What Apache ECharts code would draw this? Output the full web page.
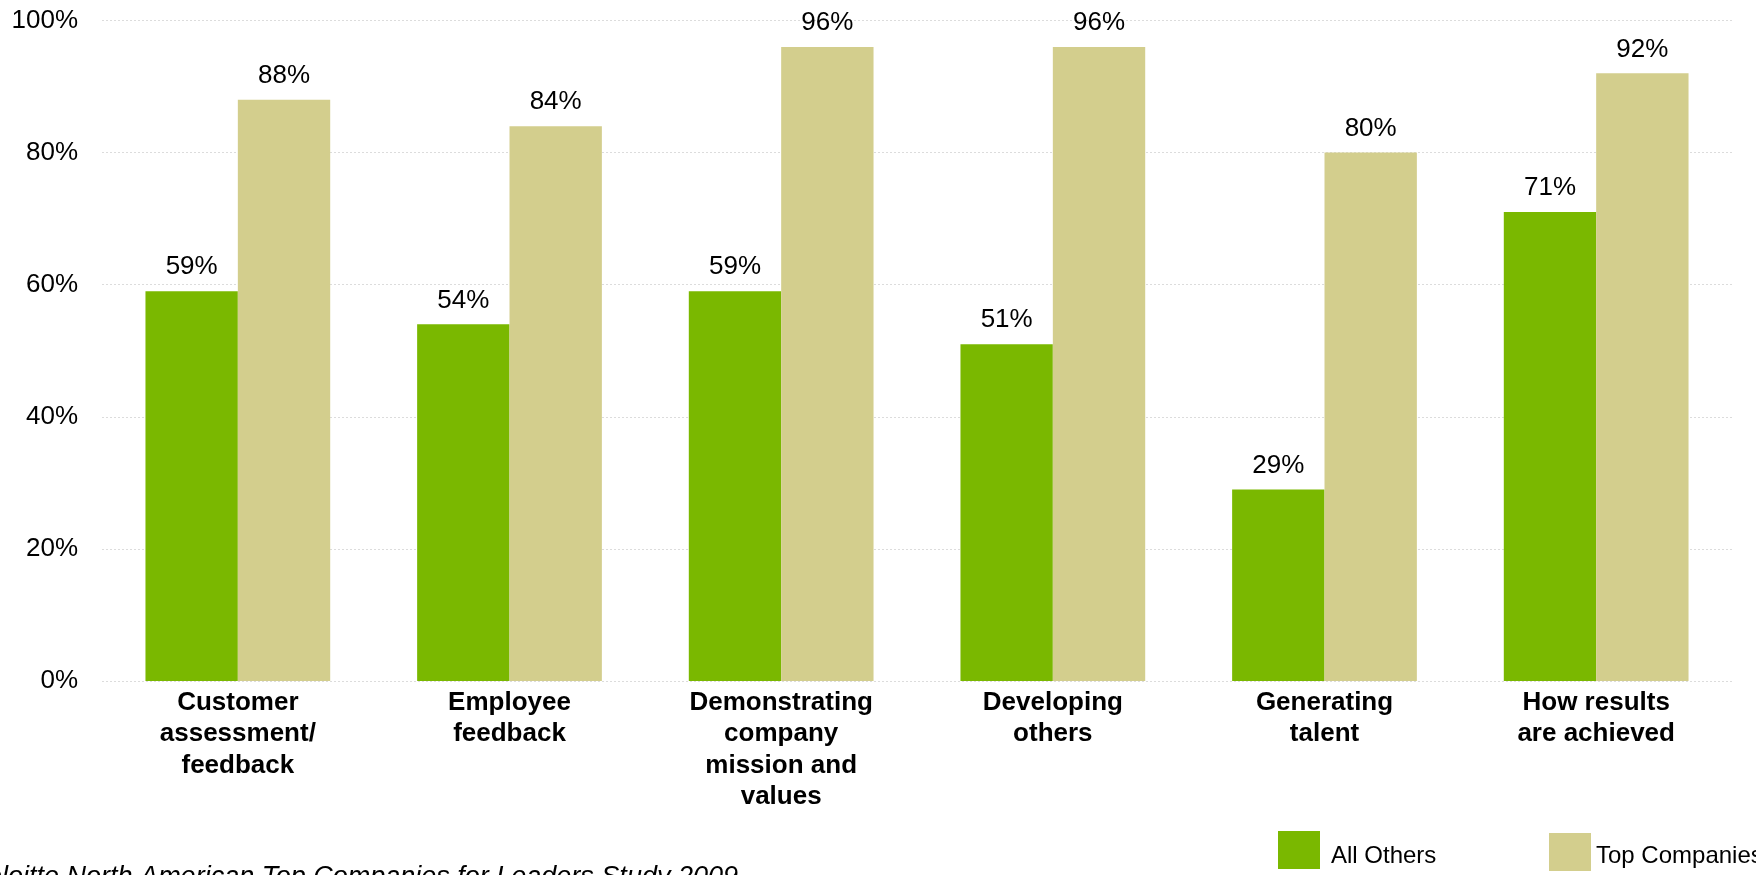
<!DOCTYPE html>
<html>
<head>
<meta charset="utf-8">
<script src="https://cdn.jsdelivr.net/npm/echarts@6/dist/echarts.min.js"></script>
<style>
  html, body { margin: 0; padding: 0; background: #fff; }
  #chart { width: 1756px; height: 875px; }
</style>
</head>
<body>
<div id="chart"></div>
<script>
// Practices used to evaluate leaders: share of companies (%)
const categories = [
  'Customer\nassessment/\nfeedback',
  'Employee\nfeedback',
  'Demonstrating\ncompany\nmission and\nvalues',
  'Developing\nothers',
  'Generating\ntalent',
  'How results\nare achieved'
];
const allOthers = [59, 54, 59, 51, 29, 71];
const topCompanies = [88, 84, 96, 96, 80, 92];
const yTicks = { min: 0, max: 100, interval: 20 };
const sourceNote = 'Source: Deloitte North American Top Companies for Leaders Study 2009';

const FONT = 'Arial, "Liberation Sans", sans-serif';
const GREEN = '#7AB800';
const TAN = '#D3CE8D';

// Legend swatches: a 42x38 square sitting at the top of a taller box,
// so the label lines up slightly below the swatch centre.
const swatch = (boxH) => 'path://M0,0L42,0L42,38L0,38Z M0,' + boxH + 'L0.01,' + boxH;

const chart = echarts.init(document.getElementById('chart'));

const valueLabel = {
  show: true,
  position: 'top',
  distance: 11,
  fontFamily: FONT,
  fontSize: 26,
  color: '#000',
  formatter: '{c}%'
};

chart.setOption({
  animation: false,
  backgroundColor: '#fff',
  grid: { left: 102, right: 24, top: 20.5, bottom: 194, containLabel: false },
  legend: [
    {
      data: ['All Others'],
      left: 1278,
      top: 831,
      padding: 0,
      itemWidth: 42,
      itemHeight: 50,
      icon: swatch(50),
      textStyle: { fontFamily: FONT, fontSize: 24, color: '#000', padding: [0, 0, 0, 6] }
    },
    {
      data: ['Top Companies'],
      left: 1549,
      top: 833,
      padding: 0,
      itemWidth: 42,
      itemHeight: 46,
      icon: swatch(46),
      textStyle: { fontFamily: FONT, fontSize: 24, color: '#000' }
    }
  ],
  xAxis: {
    type: 'category',
    data: categories,
    axisLine: { show: false },
    axisTick: { show: false },
    axisLabel: {
      interval: 0,
      margin: 6,
      fontFamily: FONT,
      fontSize: 26,
      fontWeight: 'bold',
      lineHeight: 31.5,
      color: '#000'
    }
  },
  yAxis: {
    type: 'value',
    min: yTicks.min,
    max: yTicks.max,
    interval: yTicks.interval,
    axisLine: { show: false },
    axisTick: { show: false },
    axisLabel: {
      margin: 24,
      fontFamily: FONT,
      fontSize: 26,
      color: '#000',
      formatter: '{value}%'
    },
    splitLine: { show: true, lineStyle: { color: '#dcdcdc', type: [2, 2], width: 1 } }
  },
  series: [
    {
      name: 'All Others',
      type: 'bar',
      data: allOthers,
      barWidth: '34%',
      barGap: '0%',
      itemStyle: { color: GREEN },
      label: valueLabel
    },
    {
      name: 'Top Companies',
      type: 'bar',
      data: topCompanies,
      barWidth: '34%',
      barGap: '0%',
      itemStyle: { color: TAN },
      label: valueLabel
    }
  ],
  graphic: [
    {
      type: 'text',
      left: -133,
      top: 864,
      style: {
        text: sourceNote,
        fontFamily: FONT,
        fontSize: 27,
        fontStyle: 'italic',
        fill: '#000'
      }
    }
  ]
});
</script>
</body>
</html>
